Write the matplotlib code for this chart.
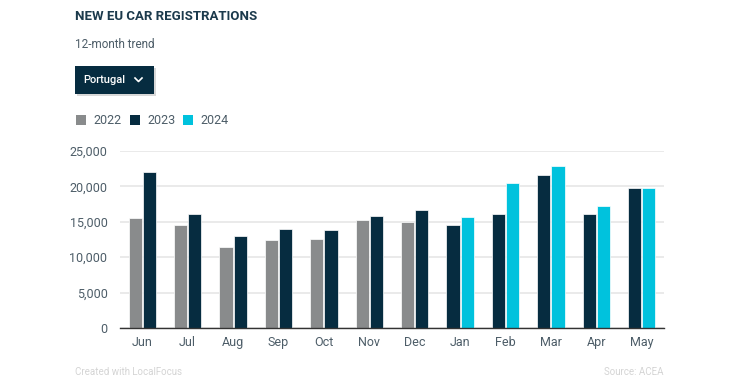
import matplotlib
matplotlib.use("Agg")
import matplotlib.pyplot as plt
from matplotlib.patches import Rectangle
from matplotlib.lines import Line2D
import numpy as np

plt.rcParams['font.family'] = ['Roboto', 'DejaVu Sans']

# data (Portugal, new car registrations)
months = ['Jun', 'Jul', 'Aug', 'Sep', 'Oct', 'Nov', 'Dec', 'Jan', 'Feb', 'Mar', 'Apr', 'May']
v2022 = [15500, 14600, 11400, 12450, 12600, 15300, 15000]            # Jun-Dec 2022
v2023 = [22050, 16050, 13000, 14050, 13850, 15800, 16600,            # Jun-Dec 2023
         14600, 16050, 21550, 16050, 19800]                          # Jan-May 2023
v2024 = [15700, 20450, 22900, 17200, 19800]                          # Jan-May 2024
years = ['2022', '2023', '2024']

c22, c23, c24 = '#898b8c', '#062c40', '#00c2dd'
txt = '#4d5d68'

fig = plt.figure(figsize=(7.4, 3.89), dpi=100)
W, H = 740, 389
ax = fig.add_axes([120 / W, 1 - 328 / H, 544 / W, 177 / H])

x = np.arange(len(months))
bw, off = 0.29, 0.155
n_old = len(v2022)
# left bar = previous year, right bar = current year
left_vals = v2022 + v2023[n_old:]
left_cols = [c22] * n_old + [c23] * (len(months) - n_old)
right_vals = v2023[:n_old] + v2024
right_cols = [c23] * n_old + [c24] * (len(months) - n_old)
ax.bar(x - off, left_vals, bw, color=left_cols, edgecolor='white', linewidth=0.5, zorder=3)
ax.bar(x + off, right_vals, bw, color=right_cols, edgecolor='white', linewidth=0.5, zorder=3)

ax.set_xlim(-0.49, 11.49)
ax.set_ylim(0, 25000)
ax.set_yticks(range(0, 25001, 5000))
ax.set_yticklabels([f'{v:,}' for v in range(0, 25001, 5000)])
ax.set_xticks(x)
ax.set_xticklabels(months)
ax.tick_params(length=0, labelsize=9, labelcolor=txt)
ax.tick_params(axis='y', pad=9)
ax.tick_params(axis='x', pad=6)
ax.grid(axis='y', color='#e8e8e8', linewidth=1.3, zorder=0)
for s in ['top', 'right', 'left']:
    ax.spines[s].set_visible(False)
ax.spines['bottom'].set_color('#333333')
ax.spines['bottom'].set_linewidth(1.0)
ax.spines['bottom'].set_zorder(4)

# header
fig.text(75 / W, 1 - 16 / H, 'NEW EU CAR REGISTRATIONS', fontsize=9.5, fontweight='bold',
         color='#1c3a4c', va='center')
fig.text(75 / W, 1 - 45 / H, '12-month trend', fontsize=8.5, color=txt, va='center')

# dropdown
fig.patches.append(Rectangle((77 / W, 1 - 96 / H), 79 / W, 28 / H, transform=fig.transFigure,
                             facecolor='#d8d8d8', edgecolor='none', zorder=1))
fig.patches.append(Rectangle((75 / W, 1 - 94 / H), 79 / W, 28 / H, transform=fig.transFigure,
                             facecolor='#062c40', edgecolor='none', zorder=2))
fig.text(83 / W, 1 - 80 / H, 'Portugal', fontsize=8, fontweight='medium', color='white',
         va='center', zorder=3)
fig.add_artist(Line2D([135 / W, 138.5 / W, 142 / W], [1 - 78 / H, 1 - 81.5 / H, 1 - 78 / H],
                      transform=fig.transFigure, color='white', linewidth=1.2, zorder=3))

# legend
for i, (yr, c) in enumerate(zip(years, [c22, c23, c24])):
    x0 = [76, 130, 183][i]
    fig.patches.append(Rectangle((x0 / W, 1 - 125 / H), 10 / W, 10 / H, transform=fig.transFigure,
                                 facecolor=c, edgecolor='none'))
    fig.text((x0 + 17) / W, 1 - 120 / H, yr, fontsize=9, color=txt, va='center')

# footer
fig.text(75 / W, 1 - 372 / H, 'Created with LocalFocus', fontsize=7, color='#d4d4d4', va='center')
fig.text(663 / W, 1 - 372 / H, 'Source: ACEA', fontsize=7, color='#d4d4d4', va='center', ha='right')

fig.savefig('out.png', dpi=100, facecolor='white')
